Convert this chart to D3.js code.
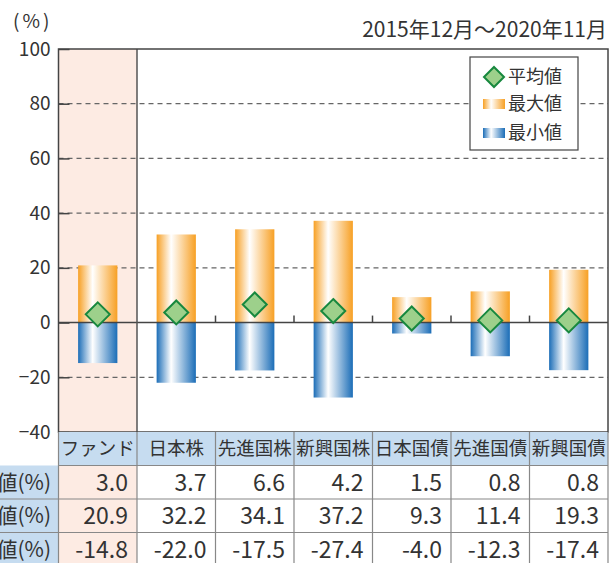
<!DOCTYPE html>
<html>
<head>
<meta charset="utf-8">
<script src="https://cdn.jsdelivr.net/npm/d3@7"></script>
<style>
  body { margin: 0; background: #fff; overflow: hidden; }
  text { font-family: "Noto Sans CJK JP", "Noto Sans", sans-serif; fill: #333; }
</style>
</head>
<body>
<div id="chart"></div>
<script>
// data
const categories = ['ファンド', '日本株', '先進国株', '新興国株', '日本国債', '先進国債', '新興国債']
const avgValues = [3.0, 3.7, 6.6, 4.2, 1.5, 0.8, 0.8]
const maxValues = [20.9, 32.2, 34.1, 37.2, 9.3, 11.4, 19.3]
const minValues = [-14.8, -22.0, -17.5, -27.4, -4.0, -12.3, -17.4]
const yTicks = [-40, -20, 0, 20, 40, 60, 80, 100]
const rowLabels = ['平均値(%)', '最大値(%)', '最小値(%)']
const legendLabels = ['平均値', '最大値', '最小値']

const W = 616, H = 563
const plot = { left: 58.5, right: 608, top: 49, bottom: 432 }
const rowH = 33.5

const svg = d3.select('#chart').append('svg')
  .attr('width', W)
  .attr('height', H)

const defs = svg.append('defs')
function hGrad(id, edge) {
  const g = defs.append('linearGradient').attr('id', id)
    .attr('x1', 0).attr('x2', 1).attr('y1', 0).attr('y2', 0)
  g.append('stop').attr('offset', '0%').attr('stop-color', edge)
  g.append('stop').attr('offset', '37%').attr('stop-color', '#ffffff')
  g.append('stop').attr('offset', '100%').attr('stop-color', edge)
}
hGrad('gOrange', '#f7a024')
hGrad('gBlue', '#1b6db7')

const x = d3.scaleBand()
  .domain(categories)
  .range([plot.left, plot.right])

const y = d3.scaleLinear()
  .domain([-40, 100])
  .range([plot.bottom, plot.top])

const barW = x.bandwidth() * 0.5

// fund column background (plot + table body)
svg.append('rect')
  .attr('x', x(categories[0]))
  .attr('y', plot.top)
  .attr('width', x.bandwidth())
  .attr('height', H - plot.top)
  .style('fill', '#fdebe3')

// dashed grid lines
svg.append('g').selectAll('line')
  .data(yTicks.filter(d => d !== 0 && d !== 100 && d !== -40))
  .join('line')
  .attr('x1', plot.left).attr('x2', plot.right)
  .attr('y1', d => y(d)).attr('y2', d => y(d))
  .style('stroke', '#666')
  .style('stroke-width', 1.2)
  .style('stroke-dasharray', '5,4')

// y axis with inside ticks
const yAxis = svg.append('g')
  .attr('transform', `translate(${plot.left},0)`)
  .call(d3.axisLeft(y).tickValues(yTicks).tickSizeInner(-11).tickSizeOuter(0).tickPadding(20))
yAxis.select('.domain').remove()
yAxis.selectAll('.tick line').style('stroke', '#444').style('stroke-width', 1.5)
yAxis.selectAll('.tick text')
  .style('font-size', '19px')
  .style('font-family', '"Noto Sans CJK JP", sans-serif')
  .style('fill', '#333')
  .attr('x', -8)

// max bars
svg.append('g').selectAll('rect')
  .data(categories)
  .join('rect')
  .attr('x', d => x(d) + (x.bandwidth() - barW) / 2)
  .attr('y', (d, i) => y(maxValues[i]))
  .attr('width', barW)
  .attr('height', (d, i) => y(0) - y(maxValues[i]))
  .style('fill', 'url(#gOrange)')

// min bars
svg.append('g').selectAll('rect')
  .data(categories)
  .join('rect')
  .attr('x', d => x(d) + (x.bandwidth() - barW) / 2)
  .attr('y', y(0))
  .attr('width', barW)
  .attr('height', (d, i) => y(minValues[i]) - y(0))
  .style('fill', 'url(#gBlue)')

// zero line + category ticks
svg.append('line')
  .attr('x1', plot.left).attr('x2', plot.right)
  .attr('y1', y(0)).attr('y2', y(0))
  .style('stroke', '#444').style('stroke-width', 1.5)
svg.append('g').selectAll('line')
  .data(categories.slice(2))
  .join('line')
  .attr('x1', d => x(d)).attr('x2', d => x(d))
  .attr('y1', y(0)).attr('y2', y(0) - 7)
  .style('stroke', '#444').style('stroke-width', 1.5)

// average diamonds
const dR = 12
svg.append('g').selectAll('path')
  .data(categories)
  .join('path')
  .attr('d', (d, i) => {
    const cx = x(d) + x.bandwidth() / 2, cy = y(avgValues[i])
    return `M${cx},${cy - dR}L${cx + dR},${cy}L${cx},${cy + dR}L${cx - dR},${cy}Z`
  })
  .style('fill', '#9dd08b')
  .style('stroke', '#17883e')
  .style('stroke-width', 2)

// fund column divider + plot frame
svg.append('line')
  .attr('x1', x(categories[1])).attr('x2', x(categories[1]))
  .attr('y1', plot.top).attr('y2', plot.bottom)
  .style('stroke', '#555').style('stroke-width', 1.5)
svg.append('rect')
  .attr('x', plot.left).attr('y', plot.top)
  .attr('width', plot.right - plot.left).attr('height', plot.bottom - plot.top)
  .style('fill', 'none').style('stroke', '#444').style('stroke-width', 1.5)

// legend
const lg = svg.append('g').attr('transform', 'translate(470,57)')
lg.append('rect')
  .attr('width', 108).attr('height', 93)
  .style('fill', '#fff').style('stroke', '#444').style('stroke-width', 1.2)
const lgY = [20, 47, 76]
lg.append('path')
  .attr('d', `M24,${lgY[0] - 10}L34,${lgY[0]}L24,${lgY[0] + 10}L14,${lgY[0]}Z`)
  .style('fill', '#9dd08b').style('stroke', '#17883e').style('stroke-width', 2)
lg.append('rect').attr('x', 13).attr('y', lgY[1] - 5).attr('width', 22).attr('height', 10)
  .style('fill', 'url(#gOrange)')
lg.append('rect').attr('x', 13).attr('y', lgY[2] - 5).attr('width', 22).attr('height', 10)
  .style('fill', 'url(#gBlue)')
lg.selectAll('text.lab')
  .data(legendLabels)
  .join('text')
  .attr('class', 'lab')
  .attr('x', 38)
  .attr('y', (d, i) => lgY[i])
  .attr('dy', '0.36em')
  .style('font-size', '18px')
  .text(d => d)

// titles
svg.append('text')
  .attr('x', 13).attr('y', 28)
  .style('font-size', '19px')
  .style('letter-spacing', '3px')
  .text('(%)')
svg.append('text')
  .attr('x', 607).attr('y', 37)
  .attr('text-anchor', 'end')
  .style('font-size', '21px')
  .text('2015年12月～2020年11月')

// table
const tbl = svg.append('g')
tbl.append('rect')
  .attr('x', plot.left).attr('y', plot.bottom)
  .attr('width', plot.right - plot.left).attr('height', rowH)
  .style('fill', '#c6dcf0')
tbl.selectAll('rect.rl')
  .data(rowLabels)
  .join('rect')
  .attr('class', 'rl')
  .attr('x', -10).attr('y', (d, i) => plot.bottom + rowH * (i + 1))
  .attr('width', plot.left + 10).attr('height', rowH)
  .style('fill', '#c6dcf0')

const rows = [avgValues, maxValues, minValues]
// horizontal lines
tbl.selectAll('line.h')
  .data([0, 1, 2, 3])
  .join('line')
  .attr('class', 'h')
  .attr('x1', d => d === 0 ? plot.left : 0).attr('x2', plot.right)
  .attr('y1', d => plot.bottom + rowH * (d + 1)).attr('y2', d => plot.bottom + rowH * (d + 1))
  .style('stroke', '#888').style('stroke-width', 1.2)
// vertical lines
tbl.selectAll('line.v')
  .data(categories.concat(['end']))
  .join('line')
  .attr('class', 'v')
  .attr('x1', d => d === 'end' ? plot.right : x(d))
  .attr('x2', d => d === 'end' ? plot.right : x(d))
  .attr('y1', plot.bottom).attr('y2', H)
  .style('stroke', '#888').style('stroke-width', 1.2)

tbl.selectAll('text.hd')
  .data(categories)
  .join('text')
  .attr('class', 'hd')
  .attr('x', d => x(d) + x.bandwidth() / 2)
  .attr('y', plot.bottom + rowH / 2)
  .attr('dy', '0.36em')
  .attr('text-anchor', 'middle')
  .style('font-size', '18.5px')
  .text(d => d)

tbl.selectAll('text.rl')
  .data(rowLabels)
  .join('text')
  .attr('class', 'rl')
  .attr('x', 51)
  .attr('y', (d, i) => plot.bottom + rowH * (i + 1.5))
  .attr('dy', '0.36em')
  .attr('text-anchor', 'end')
  .style('font-size', '21px')
  .text(d => d)

rows.forEach((vals, r) => {
  tbl.append('g').selectAll('text')
    .data(categories)
    .join('text')
    .attr('x', d => x(d) + x.bandwidth() - 9)
    .attr('y', plot.bottom + rowH * (r + 1.5))
    .attr('dy', '0.36em')
    .attr('text-anchor', 'end')
    .style('font-size', '23px')
    .text((d, i) => vals[i].toFixed(1))
})
</script>
</body>
</html>
